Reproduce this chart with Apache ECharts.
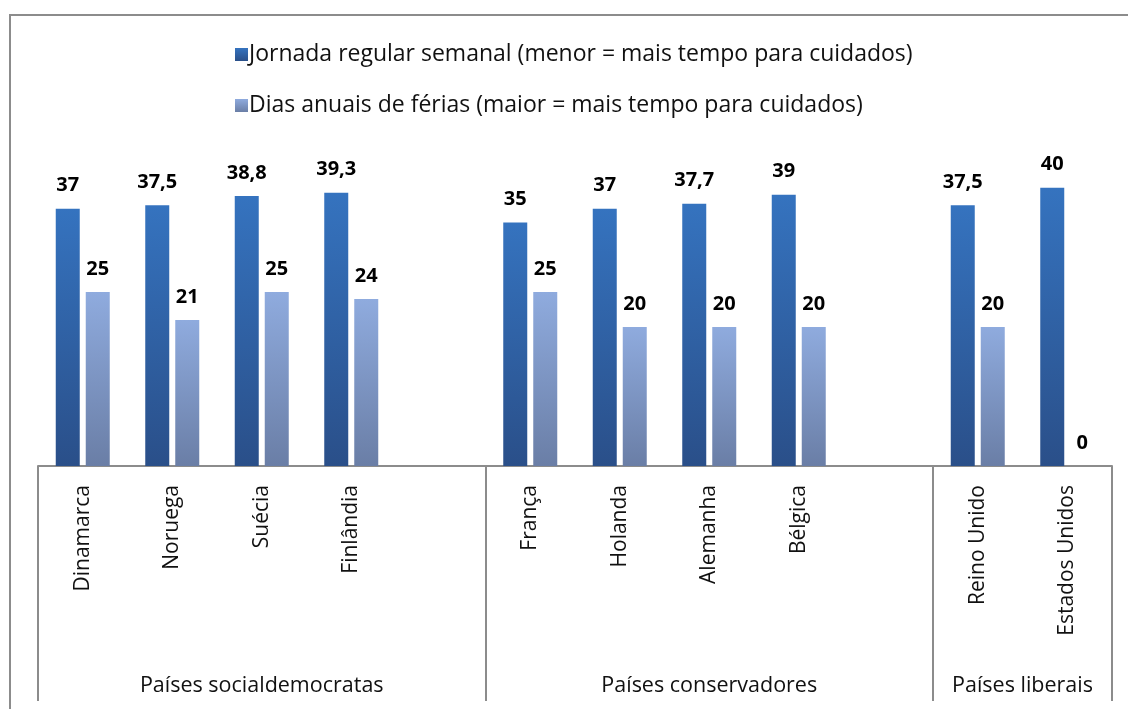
<!DOCTYPE html>
<html>
<head>
<meta charset="utf-8">
<script src="https://cdn.jsdelivr.net/npm/echarts@6/dist/echarts.min.js"></script>
<style>
  html, body { margin: 0; padding: 0; background: #fff; }
  #wrap { position: relative; width: 1128px; height: 709px; }
  #chart { width: 1128px; height: 709px; }
  #frame {
    position: absolute; left: 9px; top: 14px; right: -10px; bottom: -10px;
    border-left: 2px solid #8c8c8c; border-top: 2px solid #8c8c8c;
    pointer-events: none;
  }
</style>
</head>
<body>
<div id="wrap">
  <div id="chart"></div>
  <div id="frame"></div>
</div>
<script>
// empty strings are spacer slots between the country groups
const countries = ["Dinamarca", "Noruega", "Suécia", "Finlândia", "",
  "França", "Holanda", "Alemanha", "Bélgica", "",
  "Reino Unido", "Estados Unidos"];
const jornada = [37, 37.5, 38.8, 39.3, null, 35, 37, 37.7, 39, null, 37.5, 40];
const ferias = [25, 21, 25, 24, null, 25, 20, 20, 20, null, 20, 0];
const seriesNames = [
  "Jornada regular semanal (menor = mais tempo para cuidados)",
  "Dias anuais de férias (maior = mais tempo para cuidados)",
];
const groupNames = ["Países socialdemocratas", "Países conservadores", "Países liberais"];
const groupStart = [0, 5, 10];
const groupEnd = [4, 9, 11];

const FONT = "Open Sans, Noto Sans, sans-serif";
const chart = echarts.init(document.getElementById("chart"));

const grad = (top, bottom) =>
  new echarts.graphic.LinearGradient(0, 0, 0, 1, [
    { offset: 0, color: top },
    { offset: 1, color: bottom },
  ]);

const fmt = (p) => (p.value == null ? "" : String(p.value).replace(".", ","));

const labelStyle = {
  show: true,
  position: "top",
  distance: 13,
  formatter: fmt,
  color: "#000",
  fontSize: 20,
  fontWeight: "bold",
  fontFamily: FONT,
};

const option = {
  animation: false,
  textStyle: { fontFamily: FONT },
  legend: {
    orient: "vertical",
    left: 230,
    top: 38,
    itemWidth: 13,
    itemHeight: 13,
    itemGap: 28,
    icon: "rect",
    textStyle: { fontSize: 23, color: "#111", fontFamily: FONT, padding: [0, 0, 0, -4] },
    data: seriesNames,
  },
  grid: { left: 38, right: 16, top: 153, bottom: 243 },
  xAxis: {
    type: "category",
    data: countries,
    axisLine: { lineStyle: { color: "#8c8c8c", width: 2 } },
    axisTick: {
      show: true,
      interval: (i) => groupStart.includes(i),
      length: 235,
      lineStyle: { color: "#8c8c8c", width: 2 },
    },
    axisLabel: {
      interval: 0,
      rotate: 90,
      margin: 19,
      fontSize: 21,
      color: "#111",
      fontFamily: FONT,
    },
  },
  yAxis: {
    type: "value",
    min: 0,
    max: 45,
    show: false,
  },
  series: [
    {
      name: seriesNames[0],
      type: "bar",
      data: jornada,
      barWidth: 24,
      barGap: "25%",
      itemStyle: { color: grad("#3573bf", "#2a4f89") },
      label: labelStyle,
    },
    {
      name: seriesNames[1],
      type: "bar",
      data: ferias,
      barWidth: 24,
      itemStyle: { color: grad("#8fabde", "#6a7ea6") },
      label: labelStyle,
    },
  ],
};

chart.setOption(option);

// group labels centred under each group's span on the category axis
const band = chart.convertToPixel({ xAxisIndex: 0 }, 1) - chart.convertToPixel({ xAxisIndex: 0 }, 0);
chart.setOption({
  graphic: groupNames.map((name, g) => {
    const x0 = chart.convertToPixel({ xAxisIndex: 0 }, groupStart[g]) - band / 2;
    const x1 = chart.convertToPixel({ xAxisIndex: 0 }, groupEnd[g]) + band / 2;
    return {
      type: "text",
      x: (x0 + x1) / 2,
      y: 686,
      style: {
        text: name,
        fontSize: 21.5,
        fill: "#111",
        fontFamily: FONT,
        align: "center",
        verticalAlign: "middle",
      },
    };
  }),
});
</script>
</body>
</html>
